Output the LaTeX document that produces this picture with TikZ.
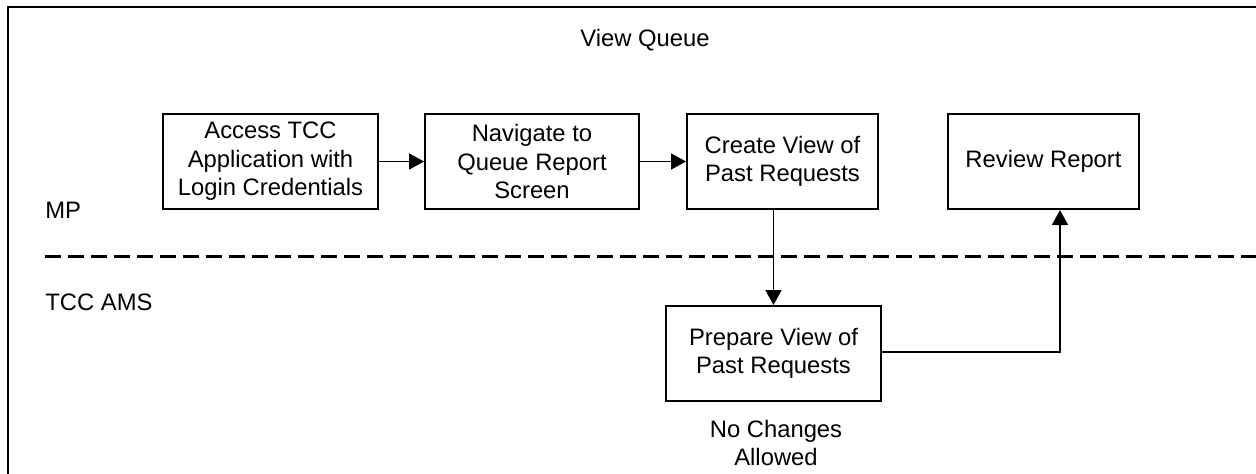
\documentclass[tikz,border=0pt]{standalone}
\usepackage{fontspec}
\setmainfont{Liberation Sans}
\usetikzlibrary{arrows.meta}
\begin{document}
\begin{tikzpicture}[x=0.5pt,y=-0.5pt,
  every node/.style={font=\fontsize{11.9}{14.3}\selectfont, inner sep=0pt},
  stepbox/.style={draw, line width=1pt, minimum height=47.5pt, align=center},
  flow/.style={line width=0.9pt, -{Triangle[length=7.5pt,width=8pt]}},
  lane/.style={line width=1.5pt, dash pattern=on 8pt off 3.5pt},
  frame/.style={line width=1.2pt}]
\useasboundingbox (0,0) rectangle (1256,473);
\clip (0,0) rectangle (1256,473);

% outer frame (open to the right and bottom)
\draw[frame] (8,480) -- (8,7) -- (1270,7);

% swimlane divider
\draw[lane] (45,256) -- (1270,256);

% title and lane labels
\node (title) at (645,40) {View Queue};
\node[anchor=west] (mp) at (45,210) {MP};
\node[anchor=west] (ams) at (45,302) {TCC AMS};

% process steps
\node[stepbox, minimum width=107.5pt] (access) at (270.5,161.5) {Access TCC\\Application with\\Login Credentials};
\node[stepbox, minimum width=107pt] (nav) at (532,161.5) {Navigate to\\Queue Report\\Screen};
\node[stepbox, minimum width=95.5pt] (create) at (782.5,161.5) {Create View of\\Past Requests};
\node[stepbox, minimum width=95.5pt] (review) at (1043.5,161.5) {Review Report};
\node[stepbox, minimum width=107.5pt] (prepare) at (773.5,353.5) {Prepare View of\\Past Requests};
\node[align=center] (note) at (776,443) {No Changes\\Allowed};

% connectors
\draw[flow] (access) -- (nav);
\draw[flow] (nav) -- (create);
\draw[flow] (prepare.north |- create.south) -- (prepare.north);
\coordinate (turn) at (1060,352);
\draw[flow] (prepare.east |- turn) -- (turn) -- (turn |- review.south);
\end{tikzpicture}
\end{document}
